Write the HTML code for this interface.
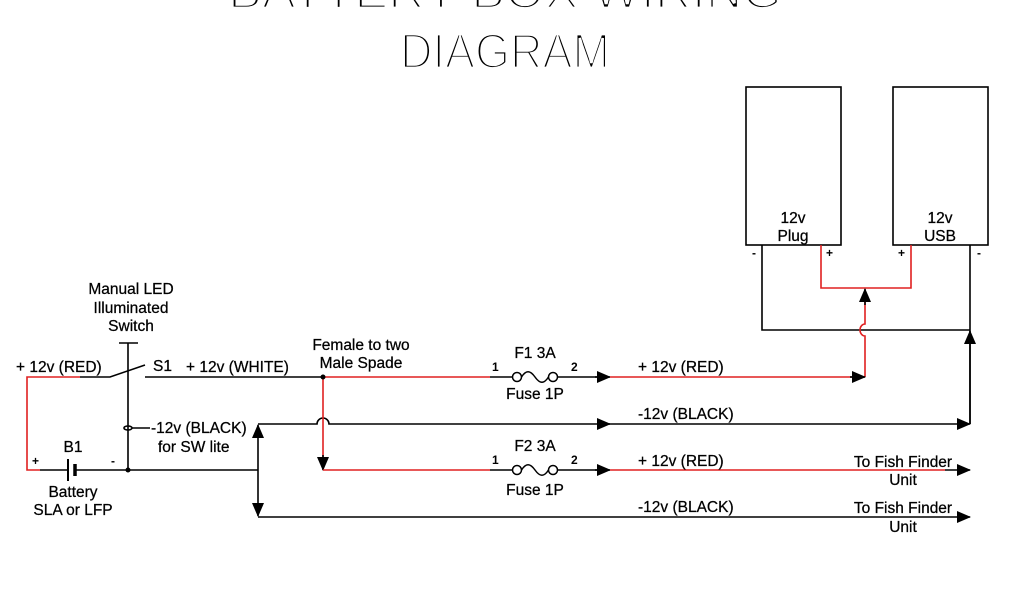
<!DOCTYPE html>
<html><head><meta charset="utf-8"><style>
html,body{margin:0;padding:0;background:#fff;}
svg{display:block;}
text{font-family:"Liberation Sans",Arial,sans-serif;font-size:15.5px;fill:#000;stroke:#000;stroke-width:0.25;}
.s{font-size:12px;font-weight:bold;stroke-width:0;}
.t{font-size:49px;fill:#000;stroke:#fff;stroke-width:2.8;paint-order:stroke;}
.t2{font-size:49px;fill:#000;stroke:#fff;stroke-width:2.8;}
</style></head><body>
<svg width="1024" height="600" viewBox="0 0 1024 600" xmlns="http://www.w3.org/2000/svg">
<defs>
<marker id="a" markerWidth="14" markerHeight="12" refX="13" refY="6" orient="auto" markerUnits="userSpaceOnUse">
<path d="M0,0 L14,6 L0,12 z" fill="#000"/></marker>
</defs>
<text class="t2" x="228" y="8" textLength="554" lengthAdjust="spacingAndGlyphs">BATTERY  BOX  WIRING</text>
<text class="t2" x="400" y="68" textLength="210" lengthAdjust="spacingAndGlyphs">DIAGRAM</text>

<g fill="none" stroke-width="1.6">
<rect x="746" y="87" width="95" height="158" stroke="#000"/>
<rect x="893" y="87" width="95" height="158" stroke="#000"/>
<path d="M762,245 V330 H970" stroke="#000"/>
<path d="M821,245 V288 H911 V245" stroke="#e02020"/>
<path d="M970,245 V424" stroke="#000"/>
<path d="M970,424 V331" stroke="#000" marker-end="url(#a)"/>
<path d="M865,377 V336 A5,6 0 0 1 865,324 V300" stroke="#e02020"/>
<path d="M865,305 V289" stroke="#000" marker-end="url(#a)"/>
<path d="M80,377 H27 V470 H40" stroke="#e02020"/>
<path d="M40,470 H68 M75,470 H258" stroke="#000"/>
<path d="M68,459 V481" stroke="#000" stroke-width="2"/>
<path d="M75,464 V476" stroke="#000" stroke-width="3.5"/>
<path d="M80,377 H110 L145,365" stroke="#000"/>
<path d="M128,343 V470 M119,343 H138" stroke="#000"/>
<ellipse cx="128" cy="428" rx="4" ry="2" stroke="#000"/>
<path d="M132,428 H150" stroke="#000"/>
<path d="M145,377 H323" stroke="#000"/>
<path d="M258,470 V425" stroke="#000" marker-end="url(#a)"/>
<path d="M258,470 V516" stroke="#000" marker-end="url(#a)"/>
<path d="M323,377 H490" stroke="#e02020"/>
<path d="M490,377 H512 M558,377 H598" stroke="#000"/>
<path d="M595,377 H610" stroke="#000" marker-end="url(#a)"/>
<path d="M610,377 H852" stroke="#e02020"/>
<path d="M850,377 H865" stroke="#000" marker-end="url(#a)"/>
<path d="M258,424 H317 A6,6 0 0 1 329,424 H610" stroke="#000" marker-end="url(#a)"/>
<path d="M600,424 H970" stroke="#000" marker-end="url(#a)"/>
<path d="M323,377 V458" stroke="#e02020"/>
<path d="M323,455 V470" stroke="#000" marker-end="url(#a)"/>
<path d="M323,470 H490" stroke="#e02020"/>
<path d="M490,470 H512 M558,470 H598" stroke="#000"/>
<path d="M595,470 H610" stroke="#000" marker-end="url(#a)"/>
<path d="M610,470 H945" stroke="#e02020"/>
<path d="M945,470 H970" stroke="#000" marker-end="url(#a)"/>
<path d="M258,517 H970" stroke="#000" marker-end="url(#a)"/>
<g stroke="#000" stroke-width="1.5">
<circle cx="517" cy="377" r="4.5"/><circle cx="553" cy="377" r="4.5"/>
<path d="M521.5,377 C526,370 530,370 535,377 C540,384 544,384 548.5,377"/>
<circle cx="517" cy="470" r="4.5"/><circle cx="553" cy="470" r="4.5"/>
<path d="M521.5,470 C526,463 530,463 535,470 C540,477 544,477 548.5,470"/>
</g>
</g>
<circle cx="323" cy="377" r="2.5" fill="#000"/>
<circle cx="128" cy="470" r="2.5" fill="#000"/>

<text x="131" y="294" text-anchor="middle">Manual LED</text>
<text x="131" y="313" text-anchor="middle">Illuminated</text>
<text x="131" y="331" text-anchor="middle">Switch</text>
<text x="16" y="372">+ 12v (RED)</text>
<text x="153" y="371">S1</text>
<text x="186" y="372">+ 12v (WHITE)</text>
<text x="361" y="350" text-anchor="middle">Female to two</text>
<text x="361" y="368" text-anchor="middle">Male Spade</text>
<text x="151" y="433">-12v (BLACK)</text>
<text x="158" y="452">for SW lite</text>
<text x="73" y="452" text-anchor="middle">B1</text>
<text x="73" y="497" text-anchor="middle">Battery</text>
<text x="73" y="515" text-anchor="middle">SLA or LFP</text>
<text class="s" x="32" y="465">+</text>
<text class="s" x="111" y="465">-</text>
<text x="535" y="358" text-anchor="middle">F1 3A</text>
<text x="535" y="399" text-anchor="middle">Fuse 1P</text>
<text x="535" y="451" text-anchor="middle">F2 3A</text>
<text x="535" y="495" text-anchor="middle">Fuse 1P</text>
<text class="s" x="492" y="371">1</text>
<text class="s" x="571" y="371">2</text>
<text class="s" x="492" y="464">1</text>
<text class="s" x="571" y="464">2</text>
<text x="638" y="372">+ 12v (RED)</text>
<text x="638" y="419">-12v (BLACK)</text>
<text x="638" y="466">+ 12v (RED)</text>
<text x="638" y="512">-12v (BLACK)</text>
<text x="903" y="467" text-anchor="middle">To Fish Finder</text>
<text x="903" y="485" text-anchor="middle">Unit</text>
<text x="903" y="513" text-anchor="middle">To Fish Finder</text>
<text x="903" y="532" text-anchor="middle">Unit</text>
<text x="793" y="223" text-anchor="middle">12v</text>
<text x="793" y="241" text-anchor="middle">Plug</text>
<text x="940" y="223" text-anchor="middle">12v</text>
<text x="940" y="241" text-anchor="middle">USB</text>
<text class="s" x="752" y="257">-</text>
<text class="s" x="826" y="257">+</text>
<text class="s" x="898" y="257">+</text>
<text class="s" x="977" y="257">-</text>
</svg>
</body></html>
